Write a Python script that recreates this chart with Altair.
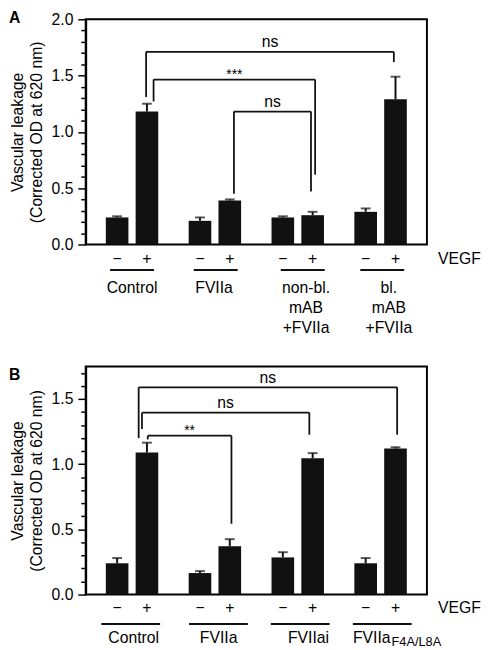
import altair as alt
import pandas as pd

# ---------------- data ----------------
vegf = ["−", "+"]

groups_a = ["Control", "FVIIa", "non-bl.\nmAB\n+FVIIa", "bl.\nmAB\n+FVIIa"]
mean_a = [0.24, 1.18, 0.21, 0.39, 0.24, 0.26, 0.29, 1.29]
sem_a = [0.01, 0.07, 0.03, 0.01, 0.01, 0.03, 0.03, 0.20]

groups_b = ["Control", "FVIIa", "FVIIai", "FVIIa"]
sub_b = ["", "", "", "F4A/L8A"]
mean_b = [0.24, 1.09, 0.165, 0.37, 0.285, 1.045, 0.24, 1.12]
sem_b = [0.04, 0.075, 0.015, 0.055, 0.04, 0.04, 0.04, 0.01]

# significance brackets (x in group units, y in data units)
sig_a_label = ["ns", "***", "ns"]
sig_a_x1 = [0.67, 0.76, 1.73]
sig_a_x2 = [3.66, 2.71, 2.66]
sig_a_y = [1.71, 1.465, 1.18]
sig_a_y1 = [1.31, 1.27, 0.45]
sig_a_y2 = [1.62, 0.62, 0.47]

sig_b_label = ["ns", "ns", "**"]
sig_b_x1 = [0.58, 0.62, 0.69]
sig_b_x2 = [3.70, 2.64, 1.70]
sig_b_y = [1.59, 1.395, 1.219]
sig_b_y1 = [1.20, 1.27, 1.19]
sig_b_y2 = [1.226, 1.226, 0.543]

# ---------------- layout ----------------
FONT = "Liberation Sans"
W = 347
OFF = 0.18
XSCALE = alt.Scale(domain=[0, 4], nice=False, zero=False)


def bars_df(means, sems):
    rows = []
    for k, (m, s) in enumerate(zip(means, sems)):
        g, j = divmod(k, 2)
        rows.append({"pos": g + 0.5 + (OFF if j else -OFF), "mean": m,
                     "top": m + s, "vegf": vegf[j]})
    return pd.DataFrame(rows)


def sig_df(lab, x1, x2, y, y1, y2):
    return pd.DataFrame({"label": lab, "x1": x1, "x2": x2, "y": y, "y1": y1,
                         "y2": y2, "xm": [(a + b) / 2 for a, b in zip(x1, x2)]})


def yaxis(ticks):
    major = "abs(datum.value*2 - round(datum.value*2)) < 0.001"
    return alt.Axis(
        values=ticks,
        labelExpr=major + " ? format(datum.value, '.1f') : ''",
        tickSize={"condition": {"test": major, "value": 8}, "value": 5},
        tickColor="black", tickWidth=1.5,
        domainColor="black", domainWidth=2,
        labelFontSize=16, labelFont=FONT, labelColor="black", labelPadding=5,
        title=["Vascular leakage", "(Corrected OD at 620 nm)"],
        titleFont=FONT, titleFontSize=16, titleFontWeight="normal",
        titleColor="black", titlePadding=7, titleLineHeight=19,
        grid=False,
    )


def panel(letter, means, sems, sig, ymax, ticks, H, lab_y, ul_y, grp_y,
          ul_center, ul_half, lab_center, labels):
    bd = bars_df(means, sems)
    sd = sig_df(*sig)
    x = lambda f: alt.X(f, scale=XSCALE, axis=None)
    ysc = alt.Scale(domain=[0, ymax], nice=False)
    ax = yaxis(ticks)
    y = lambda f: alt.Y(f, scale=ysc, axis=ax)

    bars = alt.Chart(bd).mark_bar(color="#111111", size=23, orient="vertical").encode(
        x=x("pos:Q"), y=y("mean:Q"))
    err = alt.Chart(bd).mark_rule(color="#111111", strokeWidth=2).encode(
        x=x("pos:Q"), y=y("mean:Q"), y2="top:Q")
    cap = alt.Chart(bd).mark_tick(color="#111111", orient="horizontal", size=10,
                                  thickness=2).encode(
        x=x("pos:Q"), y=y("top:Q"))

    hl = alt.Chart(sd).mark_rule(color="#111111", strokeWidth=1.8).encode(
        x=x("x1:Q"), x2="x2:Q", y=y("y:Q"))
    ll = alt.Chart(sd).mark_rule(color="#111111", strokeWidth=1.8).encode(
        x=x("x1:Q"), y=y("y1:Q"), y2="y:Q")
    rl = alt.Chart(sd).mark_rule(color="#111111", strokeWidth=1.8).encode(
        x=x("x2:Q"), y=y("y2:Q"), y2="y:Q")
    ns = alt.Chart(sd).transform_filter("datum.label == 'ns'").mark_text(
        font=FONT, fontSize=16, color="black", baseline="alphabetic", dy=-4.5).encode(
        x=x("xm:Q"), y=y("y:Q"), text="label:N")
    st = alt.Chart(sd).transform_filter("datum.label != 'ns'").mark_text(
        font=FONT, fontSize=14, color="black", baseline="alphabetic", dy=-1).encode(
        x=x("xm:Q"), y=y("y:Q"), text="label:N")

    pm = alt.Chart(bd).mark_text(font=FONT, fontSize=16, color="black",
                                 baseline="alphabetic").encode(
        x=x("pos:Q"), y=alt.value(H + lab_y), text="vegf:N")
    vg = alt.Chart(pd.DataFrame({"t": ["VEGF"]})).mark_text(
        font=FONT, fontSize=16, color="black", baseline="alphabetic").encode(
        x=alt.value(W + 33), y=alt.value(H + lab_y), text="t:N")

    gd = pd.DataFrame({
        "label": labels,
        "u1": [c - ul_half for c in ul_center],
        "u2": [c + ul_half for c in ul_center],
        "lx": lab_center,
    })
    ul = alt.Chart(gd).mark_rule(color="#111111", strokeWidth=2).encode(
        x=x("u1:Q"), x2="u2:Q", y=alt.value(H + ul_y))
    gl = alt.Chart(gd).transform_filter("datum.label != ''").mark_text(
        font=FONT, fontSize=16, color="black", baseline="alphabetic",
        lineBreak="\n", lineHeight=20.5).encode(
        x=x("lx:Q"), y=alt.value(H + grp_y), text="label:N")

    let = alt.Chart(pd.DataFrame({"t": [letter]})).mark_text(
        font=FONT, fontSize=16, fontWeight="bold", color="black",
        baseline="alphabetic", align="left").encode(
        x=alt.value(-78), y=alt.value(4 if letter == "A" else 14), text="t:N")

    layers = [bars, err, cap, hl, ll, rl, ns, st, pm, vg, ul, gl, let]
    return layers, gd, x


# Panel A
H_A = 229
ticks_a = [round(i * 0.1, 1) for i in range(21)]
layers_a, _, _ = panel(
    "A", mean_a, sem_a,
    (sig_a_label, sig_a_x1, sig_a_x2, sig_a_y, sig_a_y1, sig_a_y2),
    2.0, ticks_a, H_A, 20, 26, 49,
    [g + 0.5 + s for g, s in zip(range(4), [0.0, 0.01, 0.06, 0.02])], 0.265,
    [g + 0.5 + s for g, s in zip(range(4), [0.0, -0.01, 0.10, 0.10])],
    groups_a)
chart_a = alt.layer(*layers_a).properties(width=W, height=H_A)

# Panel B
H_B = 232
GRP_B = 49
ticks_b = [round(i * 0.1, 1) for i in range(18)]
labels_b = [g if not s else "" for g, s in zip(groups_b, sub_b)]
layers_b, gd_b, xb = panel(
    "B", mean_b, sem_b,
    (sig_b_label, sig_b_x1, sig_b_x2, sig_b_y, sig_b_y1, sig_b_y2),
    1.75, ticks_b, H_B, 19, 30, GRP_B,
    [g + 0.5 + s for g, s in zip(range(4), [-0.016, 0.043, 0.03, 0.02])], 0.355,
    [g + 0.5 + s for g, s in zip(range(4), [0.02, 0.045, 0.13, 0.0])],
    labels_b)

sub_df = pd.DataFrame({"main": [g for g, s in zip(groups_b, sub_b) if s],
                       "sub": [s for s in sub_b if s],
                       "sx": [g + 0.5 + 0.12 for g, s in enumerate(sub_b) if s]})
main_t = alt.Chart(sub_df).mark_text(font=FONT, fontSize=16, color="black",
                                     baseline="alphabetic", align="right").encode(
    x=xb("sx:Q"), y=alt.value(H_B + GRP_B), text="main:N")
sub_t = alt.Chart(sub_df).mark_text(font=FONT, fontSize=13, color="black",
                                    baseline="alphabetic", align="left", dx=1,
                                    dy=3).encode(
    x=xb("sx:Q"), y=alt.value(H_B + GRP_B), text="sub:N")
chart_b = alt.layer(*layers_b, main_t, sub_t).properties(width=W, height=H_B)

chart = alt.vconcat(chart_a, chart_b, spacing=29).properties(
    padding={"left": 0, "top": -4, "right": 0, "bottom": 0}
).configure_view(stroke="black", strokeWidth=2)

chart.save("out.html", embed_options={"renderer": "svg", "actions": False})
